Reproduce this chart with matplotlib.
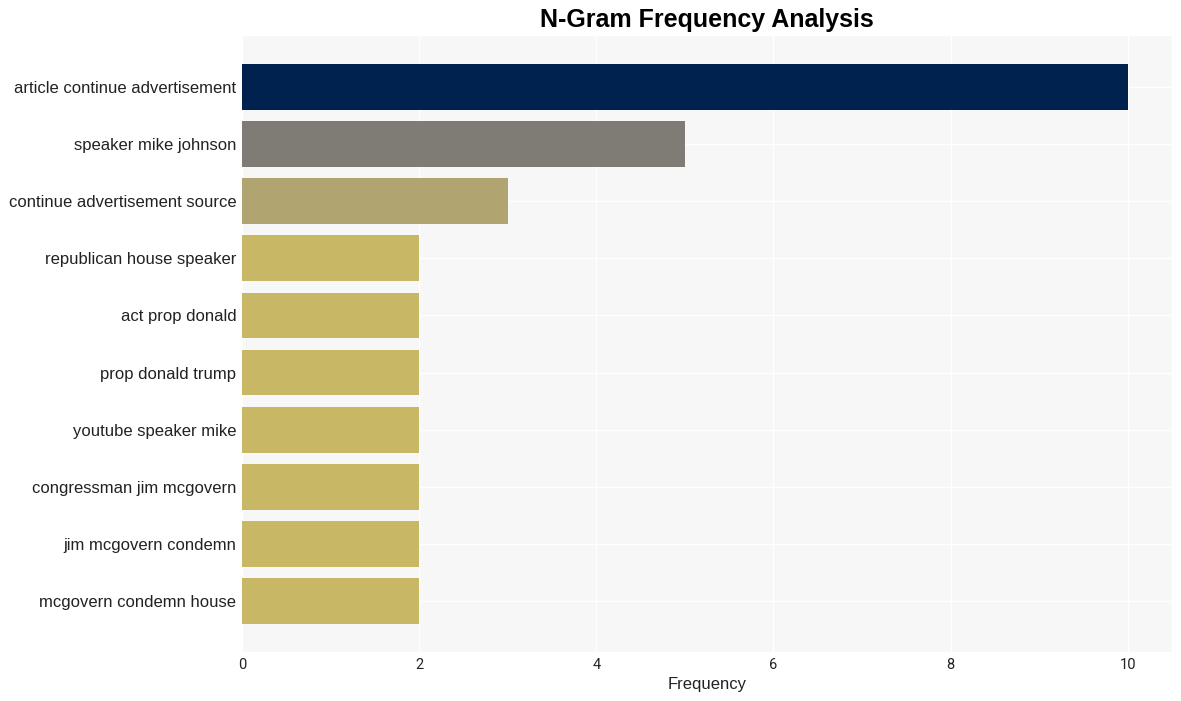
import matplotlib
matplotlib.use("Agg")
import matplotlib.pyplot as plt

categories = ["article continue advertisement", "speaker mike johnson", "continue advertisement source",
              "republican house speaker", "act prop donald", "prop donald trump", "youtube speaker mike",
              "congressman jim mcgovern", "jim mcgovern condemn", "mcgovern condemn house"]
values = [10, 5, 3, 2, 2, 2, 2, 2, 2, 2]
colors = ["#00224e", "#7e7c75", "#b0a470", "#c8b866", "#c8b866", "#c8b866", "#c8b866",
          "#c8b866", "#c8b866", "#c8b866"]

plt.rcParams['font.family'] = ['Liberation Sans', 'DejaVu Sans']
fig = plt.figure(figsize=(11.81, 7.01), dpi=100)
ax = fig.add_axes([242/1181, 1-652/701, (1172-242)/1181, (652-36)/701])
ax.set_facecolor("#f7f7f7")
ax.barh(range(len(categories)), values, color=colors, height=0.8, zorder=2)
ax.set_yticks(range(len(categories)))
ax.set_yticklabels(categories, fontsize=12, color="#222222")
ax.invert_yaxis()
ax.set_xticks([0, 2, 4, 6, 8, 10])
ax.tick_params(axis='x', labelsize=10.5, length=0, pad=4, labelcolor="#222222")
ax.tick_params(axis='y', length=0, pad=4)
for lab in ax.get_xticklabels():
    lab.set_family(['Roboto', 'DejaVu Sans'])
ax.grid(True, color="white", linewidth=1, zorder=0)
ax.set_axisbelow(True)
for s in ax.spines.values():
    s.set_visible(False)
ax.set_xlabel("Frequency", fontsize=12, labelpad=4, color="#222222")
fig.text((242+1172)/2/1181, 1-20/701, "N-Gram Frequency Analysis", ha='center', va='center',
         fontsize=18, fontweight='bold')
fig.savefig("out.png", dpi=100)
